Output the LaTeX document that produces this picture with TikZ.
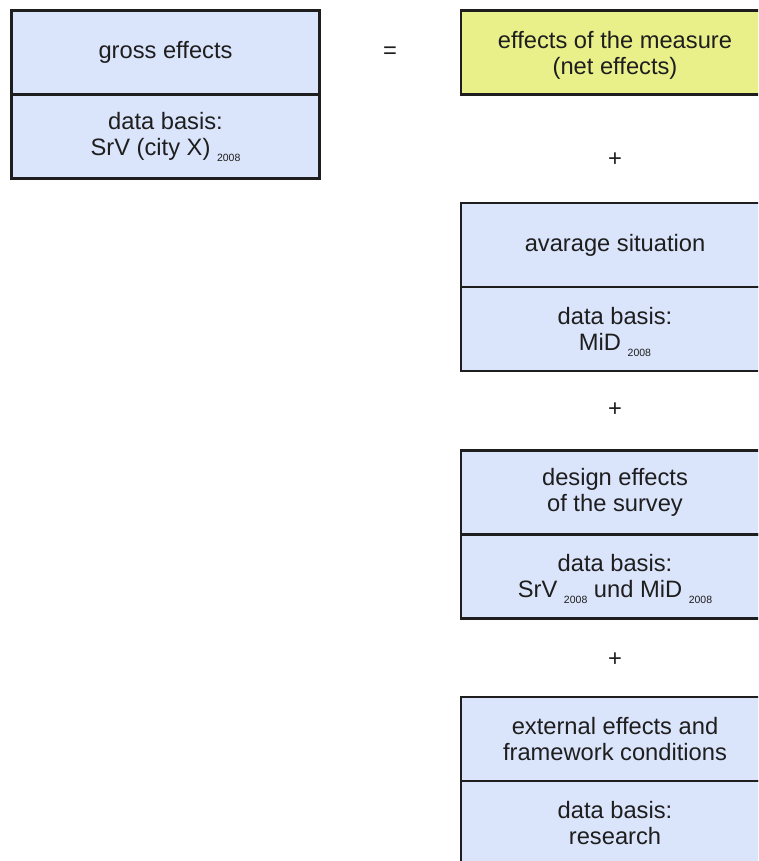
\documentclass[tikz,border=0pt]{standalone}
\usepackage{fontspec}
\setmainfont{Liberation Sans}
\definecolor{boxblue}{RGB}{218,228,250}
\definecolor{boxyellow}{RGB}{233,240,138}
\definecolor{ink}{RGB}{30,30,30}
\newcommand\yrsub{\raisebox{-5.5pt}[0pt][0pt]{\fontsize{10.5}{10.5}\selectfont 2008}}
\begin{document}
\begin{tikzpicture}[x=1pt,y=-1pt,
  cell/.style={draw=ink, line width=2.6pt, fill=boxblue, minimum width=308pt,
    minimum height=84pt, outer sep=0pt, inner sep=0pt, align=center, text=ink,
    font=\fontsize{23.7}{26}\selectfont},
  netcell/.style={cell, fill=boxyellow},
  txt/.style={inner sep=0pt, align=center, text=ink, font=\fontsize{23.7}{26}\selectfont},
  sym/.style={text=ink, inner sep=0pt, font=\fontsize{23.7}{26}\selectfont}]
\useasboundingbox (0,0) rectangle (758,861);
\clip (0,0) rectangle (758,861);
% left box
\node[cell, anchor=north west] (gross) at (11.5,10.5) {gross effects};
\node[cell, anchor=north] (grossdata) at (gross.south) {data basis:\\SrV (city X) \yrsub};
% equals
\node[sym] (eq) at (390,53) {=};
% right column
\node[netcell, anchor=north west] (net) at (461,10.5) {};
\node[txt] (nettext) at ([yshift=-2.5pt]net.center) {effects of the measure\\(net effects)};
\node[sym] (p1) at (615,160) {+};
\node[cell, anchor=north west] (avg) at (461,203) {avarage situation};
\node[cell, anchor=north] (avgdata) at (avg.south) {data basis:\\MiD \yrsub};
\node[sym] (p2) at (615,410) {+};
\node[cell, anchor=north west] (design) at (461,450.5) {design effects\\of the survey};
\node[cell, anchor=north] (designdata) at (design.south) {data basis:\\SrV \yrsub{} und MiD \yrsub};
\node[sym] (p3) at (615,660) {+};
\node[cell, anchor=north west] (ext) at (461,697) {external effects and\\framework conditions};
\node[cell, anchor=north] (extdata) at (ext.south) {data basis:\\research};
\end{tikzpicture}
\end{document}
